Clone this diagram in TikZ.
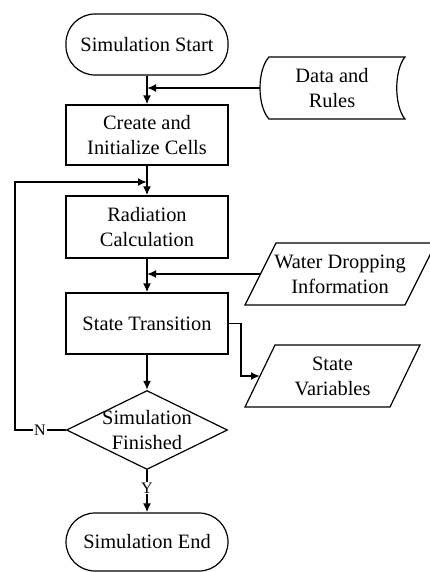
\documentclass[tikz,border=0pt]{standalone}
\usepackage{fontspec}
\setmainfont{Liberation Serif}
\usetikzlibrary{arrows.meta,shapes.geometric}
\begin{document}
\begin{tikzpicture}[x=1pt,y=-1pt,
  txt/.style={align=center,inner sep=0pt,font=\fontsize{20.4}{25}\selectfont},
  boxs/.style={txt,draw,line width=1.2pt,minimum width=162pt},
  term/.style={boxs,rounded corners=29pt},
  shp/.style={line width=1.2pt,line join=miter},
  flow/.style={line width=1.8pt,-{Latex[length=9pt,width=8pt]}},
  line/.style={line width=1.8pt},
  lab/.style={fill=white,inner sep=1pt,font=\fontsize{16}{18}\selectfont}]
\useasboundingbox (0,0) rectangle (430,572);
% main column
\node[term,minimum height=61pt] (start) at (147,44.5) {Simulation Start};
\node[boxs,minimum height=60pt] (create) at (147,135) {Create and\\Initialize Cells};
\node[boxs,minimum height=62pt] (rad) at (147,227) {Radiation\\Calculation};
\node[boxs,minimum height=61pt] (st) at (147,323.5) {State Transition};
\node[diamond,draw,line width=1.2pt,minimum width=161pt,minimum height=79pt,inner sep=0pt] (dec) at (147,430) {};
\node[txt] (dectxt) at (147,430) {Simulation\\Finished};
\node[term,minimum height=58pt] (end) at (147,542) {Simulation End};
% data and rules (stored data)
\node[txt] (data) at (332,88.5) {Data and\\Rules};
\draw[shp] (269,57) -- (405,57) .. controls (394,70) and (394,106) .. (405,119)
  -- (269,119) .. controls (257,106) and (257,70) .. (269,57) -- cycle;
\coordinate (datal) at (260,88);
% water dropping information
\node[txt] (water) at (340,274) {Water Dropping\\Information};
\draw[shp] (276,243) -- (436,243) -- (405,305) -- (245,305) -- cycle;
\coordinate (waterl) at (261,274);
% state variables
\node[txt] (sv) at (332.5,376) {State\\Variables};
\draw[shp] (275,345) -- (420,345) -- (390,407) -- (245,407) -- cycle;
\coordinate (svl) at (260,376);
% junctions
\coordinate (j1) at (147,88);
\coordinate (j2) at (147,182);
\coordinate (j3) at (147,274);
% connectors
\draw[flow] (start) -- (create);
\draw[flow] (datal) -- (j1);
\draw[flow] (create) -- (rad);
\draw[flow] (dec.west) -- (15,430) |- (j2);
\draw[flow] (rad) -- (st);
\draw[flow] (waterl) -- (j3);
\draw[flow] (st) -- (dec);
\draw[flow] (st.east) -- ++(12,0) |- (svl);
\draw[flow] (dec) -- (end);
\node[lab] (nlab) at (40,430) {N};
\node[lab] (ylab) at (147,488) {Y};
\end{tikzpicture}
\end{document}
